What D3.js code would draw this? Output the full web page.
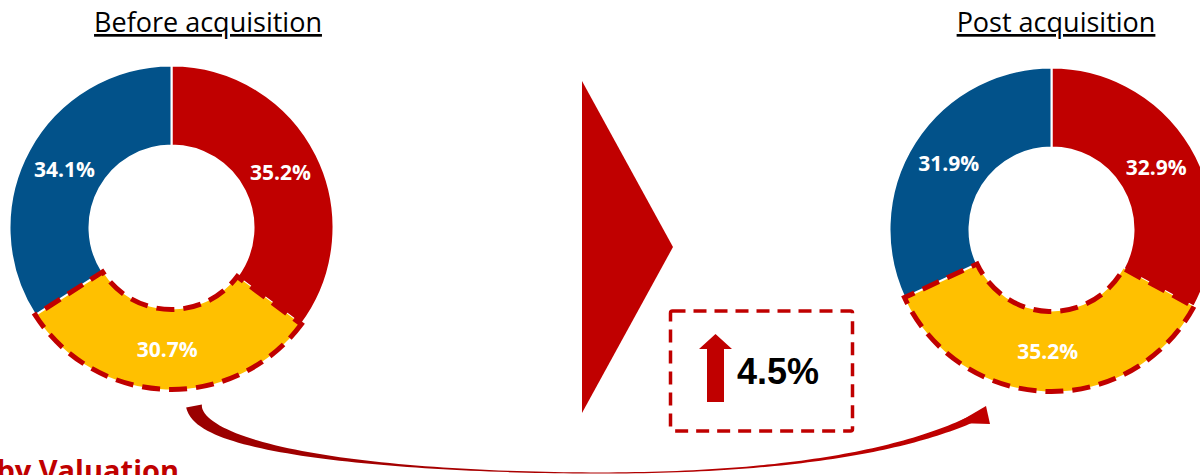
<!DOCTYPE html>
<html>
<head>
<meta charset="utf-8">
<script src="https://cdn.jsdelivr.net/npm/d3@7"></script>
<style>
  html, body { margin: 0; padding: 0; background: #fff; overflow: hidden; }
  svg { display: block; }
</style>
</head>
<body>
<svg width="1200" height="475"></svg>
<script>
// data
const categories = ['Segment A', 'Segment B', 'Segment C']
const beforeValues = [35.2, 30.7, 34.1]
const afterValues = [32.9, 35.2, 31.9]
const titles = ['Before acquisition', 'Post acquisition']
const highlight = 'Segment B'
const changeValue = 4.5
const footText = 'by Valuation'

const svg = d3.select('svg'),
  red = '#C00000',
  color = d3.scaleOrdinal()
    .domain(categories)
    .range([red, '#FFC000', '#02528A']),
  pie = d3.pie().sort(null).value(d => d.value),
  arc = d3.arc().innerRadius(82).outerRadius(162),
  fmt = d => d3.format('.1f')(d) + '%'

const donuts = [
  { title: titles[0], values: beforeValues, cx: 171.5, cy: 227.5, tx: 208 },
  { title: titles[1], values: afterValues, cx: 1051.5, cy: 229.5, tx: 1056 }
]

donuts.forEach(dn => {
  const rows = categories.map((c, i) => ({ cat: c, value: dn.values[i] }))
  const g = svg.append('g').attr('transform', `translate(${dn.cx}, ${dn.cy})`)
  const arcs = pie(rows)

  g.selectAll('path.slice')
    .data(arcs)
    .enter()
    .append('path')
    .attr('class', 'slice')
    .attr('d', arc)
    .attr('fill', d => color(d.data.cat))
    .attr('stroke', d => d.data.cat === highlight ? 'none' : '#fff')
    .attr('stroke-width', 2)

  // dashed outline on the highlighted slice
  g.selectAll('path.hl')
    .data(arcs.filter(d => d.data.cat === highlight))
    .enter()
    .append('path')
    .attr('class', 'hl')
    .attr('d', arc)
    .attr('fill', 'none')
    .attr('stroke', red)
    .attr('stroke-width', 5)
    .attr('stroke-dasharray', '18 9')

  g.selectAll('text.lbl')
    .data(arcs)
    .enter()
    .append('text')
    .attr('class', 'lbl')
    .attr('transform', d => `translate(${arc.centroid(d)})`)
    .attr('text-anchor', 'middle')
    .attr('dy', '0.36em')
    .attr('fill', '#fff')
    .attr('font-family', '"Open Sans", sans-serif')
    .attr('font-weight', 'bold')
    .attr('font-size', 21)
    .text(d => fmt(d.data.value))

  svg.append('text')
    .attr('x', dn.tx)
    .attr('y', 32)
    .attr('text-anchor', 'middle')
    .attr('font-family', '"Open Sans", sans-serif')
    .attr('font-size', 27)
    .attr('fill', '#000')
    .style('text-decoration', 'underline')
    .text(dn.title)
})

// chevron between the charts
svg.append('path')
  .attr('d', d3.line()([[582, 81], [673, 247], [582, 413]]) + 'Z')
  .attr('fill', red)

// change box
svg.append('rect')
  .attr('x', 670.5).attr('y', 311)
  .attr('width', 182).attr('height', 120)
  .attr('rx', 2)
  .attr('fill', 'none')
  .attr('stroke', red)
  .attr('stroke-width', 3.5)
  .attr('stroke-dasharray', '13 8')

svg.append('path')
  .attr('d', d3.line()([[707, 402], [724, 402], [724, 349], [732, 349], [715.5, 334], [699, 349], [707, 349]]) + 'Z')
  .attr('fill', red)

svg.append('text')
  .attr('x', 737)
  .attr('y', 384)
  .attr('font-family', '"Liberation Sans", Arial, sans-serif')
  .attr('font-weight', 'bold')
  .attr('font-size', 36)
  .attr('fill', '#000')
  .text(fmt(changeValue))

// curved tapered arrow under the charts
function bez(p, t) {
  const u = 1 - t
  return [
    u * u * u * p[0][0] + 3 * u * u * t * p[1][0] + 3 * u * t * t * p[2][0] + t * t * t * p[3][0],
    u * u * u * p[0][1] + 3 * u * u * t * p[1][1] + 3 * u * t * t * p[2][1] + t * t * t * p[3][1]
  ]
}
const segA = [[194, 406], [200, 455], [420, 473], [600, 473]],
  segB = [[600, 473], [780, 473], [900, 452], [972, 419]]
const centre = []
for (let i = 0; i <= 60; i++) centre.push({ p: bez(segA, i / 60), w: 1.2 + 14.8 * Math.pow(1 - i / 60, 2.5) })
for (let i = 1; i <= 60; i++) centre.push({ p: bez(segB, i / 60), w: 1.2 + 6 * Math.pow(i / 60, 1.8) })
const upper = [], lower = []
centre.forEach((c, i) => {
  const a = centre[Math.max(0, i - 1)].p, b = centre[Math.min(centre.length - 1, i + 1)].p
  let dx = b[0] - a[0], dy = b[1] - a[1]
  const len = Math.hypot(dx, dy)
  const nx = -dy / len, ny = dx / len
  upper.push([c.p[0] + nx * c.w / 2, c.p[1] + ny * c.w / 2])
  lower.push([c.p[0] - nx * c.w / 2, c.p[1] - ny * c.w / 2])
})
const defs = svg.append('defs')
const grad = defs.append('linearGradient').attr('id', 'curveGrad')
  .attr('x1', 0).attr('x2', 1).attr('y1', 0).attr('y2', 0)
grad.append('stop').attr('offset', '0%').attr('stop-color', '#9A0000')
grad.append('stop').attr('offset', '100%').attr('stop-color', red)

svg.append('path')
  .attr('d', d3.line()(upper.concat(lower.reverse())) + 'Z')
  .attr('fill', 'url(#curveGrad)')

svg.append('path')
  .attr('d', d3.line()([[957, 423], [986, 406], [990, 424]]) + 'Z')
  .attr('fill', red)

// footer text (cut by the bottom edge, as in the source)
svg.append('text')
  .attr('x', 179)
  .attr('y', 481)
  .attr('text-anchor', 'end')
  .attr('font-family', '"Open Sans", sans-serif')
  .attr('font-weight', 'bold')
  .attr('font-size', 29)
  .attr('fill', red)
  .text(footText)
</script>
</body>
</html>
